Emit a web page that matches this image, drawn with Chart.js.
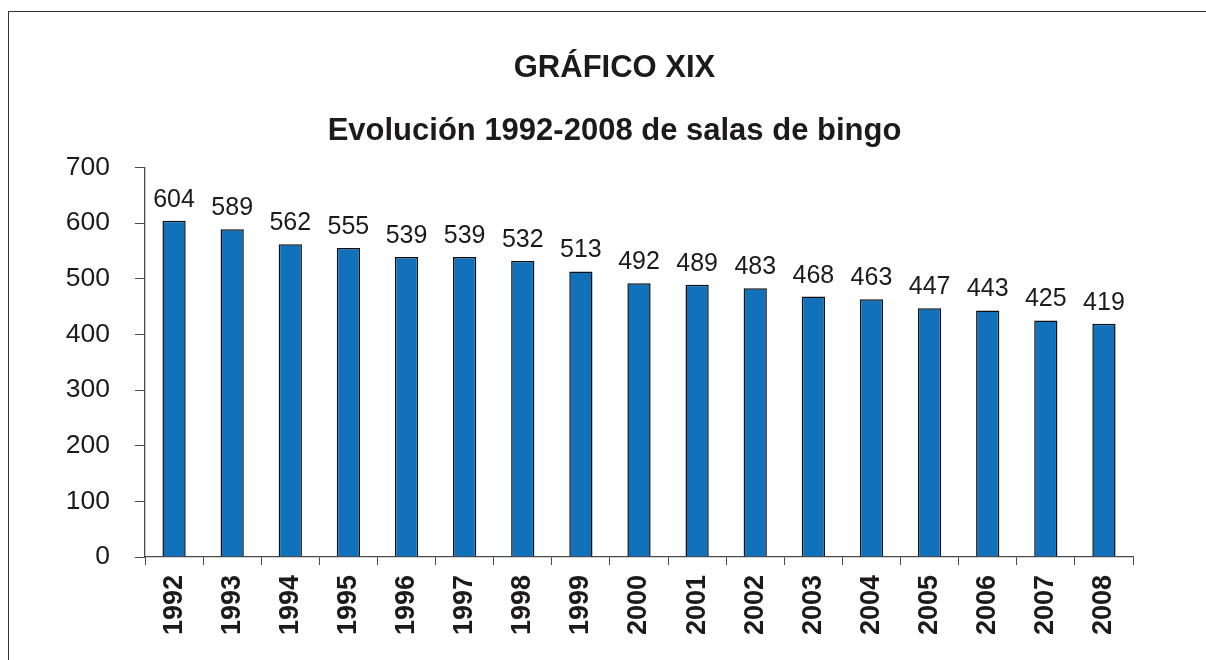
<!DOCTYPE html>
<html>
<head>
<meta charset="utf-8">
<script src="https://cdn.jsdelivr.net/npm/chart.js@4.4.1/dist/chart.umd.min.js"></script>
<style>
  html, body { margin: 0; padding: 0; background: #fff; }
  #wrap { position: relative; width: 1206px; height: 660px; overflow: hidden; }
  #frame { position: absolute; left: 8px; top: 11px; width: 1400px; height: 800px;
           border-left: 1.5px solid #333; border-top: 1.5px solid #333; }
  canvas { position: absolute; left: 0; top: 0; }
</style>
</head>
<body>
<div id="wrap">
  <div id="frame"></div>
  <canvas id="c" width="1206" height="660"></canvas>
</div>
<script>
const titleText = "GRÁFICO XIX";
const subtitleText = "Evolución 1992-2008 de salas de bingo";
const years = ["1992","1993","1994","1995","1996","1997","1998","1999","2000","2001","2002","2003","2004","2005","2006","2007","2008"];
const salas = [604, 589, 562, 555, 539, 539, 532, 513, 492, 489, 483, 468, 463, 447, 443, 425, 419];
const yTicks = [0, 100, 200, 300, 400, 500, 600, 700];

const FONT = "'Liberation Sans', Arial, Helvetica, sans-serif";
const TEXT = "#1c1a1b";
const AXIS = "#4a4a4a";

const valueLabels = {
  id: 'valueLabels',
  afterDatasetsDraw(chart) {
    const ctx = chart.ctx;
    const meta = chart.getDatasetMeta(0);
    ctx.save();
    ctx.font = "25px " + FONT;
    ctx.fillStyle = TEXT;
    ctx.textAlign = 'center';
    ctx.textBaseline = 'alphabetic';
    meta.data.forEach((bar, i) => {
      ctx.fillText(String(chart.data.datasets[0].data[i]), bar.x, bar.y - 14);
    });
    ctx.restore();
  }
};

new Chart(document.getElementById('c'), {
  type: 'bar',
  data: {
    labels: years,
    datasets: [{
      data: salas,
      backgroundColor: '#1171ba',
      borderColor: '#0a0f14',
      borderWidth: 1.5,
      categoryPercentage: 1.0,
      barPercentage: 0.4
    }]
  },
  options: {
    responsive: false,
    animation: false,
    layout: { padding: { left: 55, right: 32, top: 0, bottom: 0 } },
    plugins: {
      legend: { display: false },
      tooltip: { enabled: false },
      title: {
        display: true, text: titleText, color: TEXT,
        font: { family: FONT, size: 31, weight: 'bold' },
        padding: { top: 50, bottom: 26 }
      },
      subtitle: {
        display: true, text: subtitleText, color: TEXT,
        font: { family: FONT, size: 31, weight: 'bold' },
        padding: { top: 0, bottom: 17 }
      }
    },
    scales: {
      x: {
        grid: { display: true, drawOnChartArea: false, drawTicks: true, tickLength: 8, color: AXIS, offset: true },
        border: { display: true, color: AXIS, width: 1.3 },
        ticks: { color: TEXT, font: { family: FONT, size: 27, weight: 'bold' }, minRotation: 90, maxRotation: 90, padding: 10, autoSkip: false },
        afterFit(scale) { scale.height = 103; }
      },
      y: {
        min: 0, max: 700,
        afterBuildTicks(scale) { scale.ticks = yTicks.map(v => ({ value: v })); },
        grid: { display: true, drawOnChartArea: false, drawTicks: true, tickLength: 10, color: AXIS },
        border: { display: true, color: AXIS, width: 1.3 },
        ticks: { color: TEXT, font: { family: FONT, size: 26.5 }, padding: 25 },
        afterFit(scale) { scale.width = 90; }
      },
      spacer: {
        position: 'right', display: true,
        grid: { display: false }, border: { display: false },
        ticks: { display: false },
        afterFit(scale) { scale.width = 41; }
      }
    }
  },
  plugins: [valueLabels]
});
</script>
</body>
</html>
